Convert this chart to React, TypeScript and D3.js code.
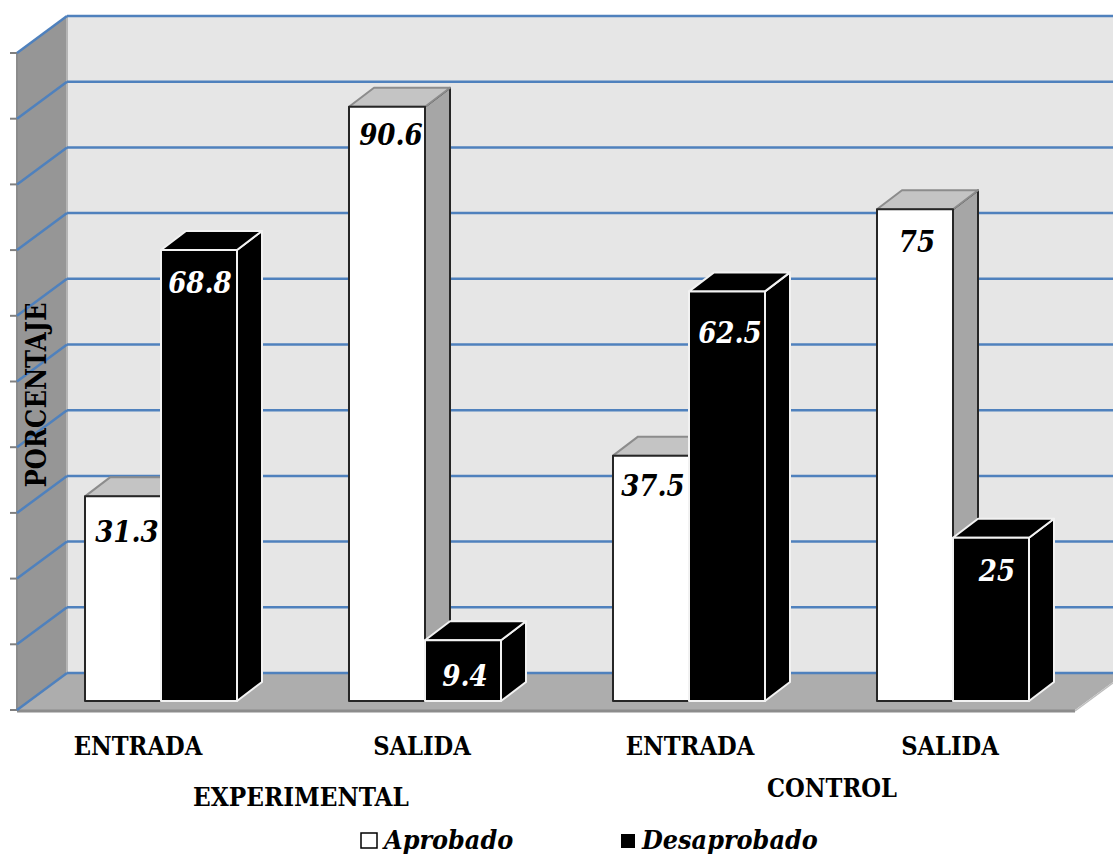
import * as React from 'react'
import * as d3 from 'd3'

const groups = ['EXPERIMENTAL', 'CONTROL']
const moments = ['ENTRADA', 'SALIDA', 'ENTRADA', 'SALIDA']
const aprobado = [31.3, 90.6, 37.5, 75]
const desaprobado = [68.8, 9.4, 62.5, 25]
const ticks = [0, 10, 20, 30, 40, 50, 60, 70, 80, 90, 100]

const width = 1113
const height = 855
const serif = '"DejaVu Serif Condensed", "DejaVu Serif", serif'

// 3d offsets of the wall and of the bars
const wallDx = 50
const wallDy = 37
const barDx = 25
const barDy = 19
const barBase = 701
const barZero = 702

// data labels sit a little differently on each bar: [dx from bar centre, dy from bar top]
const aprobadoNudge = [[4, 46], [4, 38], [2, 40], [2, 43]]
const desaprobadoNudge = [[1, 43], [2, 46], [3, 52], [6, 43]]

const yBack = d3.scaleLinear().domain([0, 100]).range([673, 16])
const xBand = d3.scaleBand<number>().domain(d3.range(4)).range([29, 1085]).paddingInner(0.4242).paddingOuter(0.2121)

function Bar({ x, w, value, dark, label, nudge }: { x: number; w: number; value: number; dark: boolean; label: string; nudge: number[] }) {
  const top = barZero - (yBack(0) - yBack(value))
  const stroke = dark ? '#f2f2f2' : '#262626'
  const poly = (pts: number[][]) => pts.map(p => p.join(',')).join(' ')
  return (
    <g strokeWidth={2} stroke={stroke} strokeLinejoin="round">
      <polygon points={poly([[x + w, top], [x + w + barDx, top - barDy], [x + w + barDx, barBase - barDy], [x + w, barBase]])} fill={dark ? '#000' : '#a6a6a6'} />
      <polygon points={poly([[x, top], [x + barDx, top - barDy], [x + w + barDx, top - barDy], [x + w, top]])} fill={dark ? '#000' : '#c4c4c4'} stroke={dark ? stroke : '#8c8c8c'} />
      <rect x={x} y={top} width={w} height={barBase - top} fill={dark ? '#000' : '#fff'} />
      <text x={x + w / 2 + nudge[0]} y={top + nudge[1]} textAnchor="middle" fontFamily={serif} fontWeight="bold" fontStyle="italic" fontSize={29} fill={dark ? '#fff' : '#000'} stroke="none">{label}</text>
    </g>
  )
}

export default function App() {
  const barW = xBand.bandwidth() / 2
  const labelStyle = { fontFamily: serif, fontWeight: 'bold' as const, fontSize: 25.2, fill: '#000' }
  const momentX = [138, 422, 690, 950]
  return (
    <svg width={width} height={height} style={{ position: 'absolute', left: 0, top: 0, background: '#fff' }}>
      {/* walls and floor */}
      <rect x={67} y={16} width={width - 67} height={657} fill="#e6e6e6" />
      <polygon points="17,53 67,16 67,673 17,710" fill="#969696" />
      <line x1={67} x2={67} y1={16} y2={673} stroke="#b5b5b5" strokeWidth={2} />
      <polygon points="67,673 1125,673 1075,710 17,710" fill="#adadad" />
      <line x1={17} x2={1075} y1={711} y2={711} stroke="#8c8c8c" strokeWidth={3} />
      <line x1={1075} x2={1125} y1={711} y2={674} stroke="#bdbdbd" strokeWidth={1.5} />
      <line x1={17} x2={17} y1={53} y2={711} stroke="#8c8c8c" strokeWidth={2} />

      {/* gridlines */}
      {ticks.map(t => (
        <g key={t} fill="none">
          <line x1={10} x2={17} y1={yBack(t) + wallDy} y2={yBack(t) + wallDy} stroke="#808080" strokeWidth={2} />
          <line x1={17} x2={17 + wallDx} y1={yBack(t) + wallDy} y2={yBack(t)} stroke="#4f81bd" strokeWidth={2.5} />
          <line x1={67} x2={width} y1={yBack(t)} y2={yBack(t)} stroke="#4f81bd" strokeWidth={2.5} />
        </g>
      ))}

      <text transform="translate(46,395) rotate(-90)" textAnchor="middle" {...labelStyle} fontSize={27}>PORCENTAJE</text>

      {/* bars */}
      {moments.map((_, i) => {
        const x = xBand(i) as number
        return (
          <g key={i}>
            <Bar x={x} w={barW} value={aprobado[i]} dark={false} label={String(aprobado[i])} nudge={aprobadoNudge[i]} />
            <Bar x={x + barW} w={barW} value={desaprobado[i]} dark={true} label={String(desaprobado[i])} nudge={desaprobadoNudge[i]} />
          </g>
        )
      })}

      {/* category labels */}
      {moments.map((m, i) => (
        <text key={i} x={momentX[i]} y={755} textAnchor="middle" {...labelStyle}>{m}</text>
      ))}
      <text x={301} y={806} textAnchor="middle" {...labelStyle} fontSize={25.8}>{groups[0]}</text>
      <text x={832} y={797} textAnchor="middle" {...labelStyle}>{groups[1]}</text>

      {/* legend */}
      <rect x={361} y={833} width={16} height={15} fill="#fff" stroke="#000" strokeWidth={1.5} />
      <text x={384} y={849} fontFamily={serif} fontWeight="bold" fontStyle="italic" fontSize={26.7}>Aprobado</text>
      <rect x={621} y={834} width={14} height={14} fill="#000" />
      <text x={642} y={849} fontFamily={serif} fontWeight="bold" fontStyle="italic" fontSize={26.7}>Desaprobado</text>
    </svg>
  )
}
